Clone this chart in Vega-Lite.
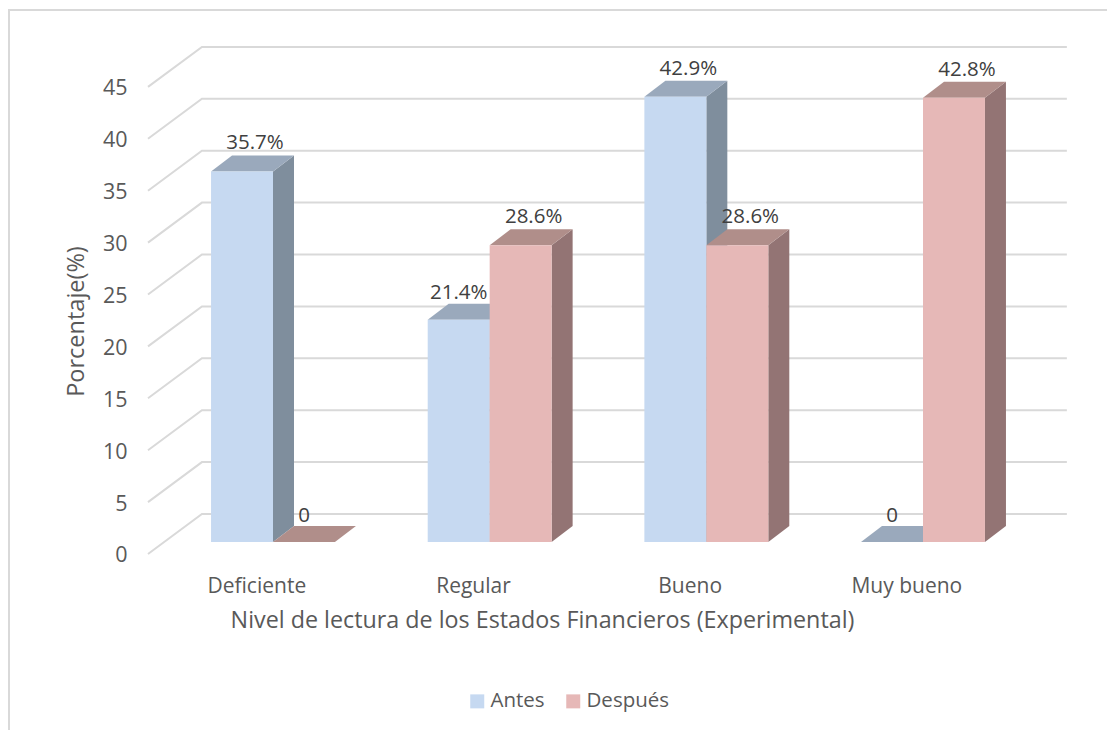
{
"$schema":"https://vega.github.io/schema/vega-lite/v6.json",
"width":1109,"height":725,
"autosize":{"type":"none"},
"padding":{"left":9,"top":10,"right":0,"bottom":0},
"background":"#ffffff",
"config":{"view":{"stroke":"#d9d9d9","strokeWidth":2},"font":"Open Sans"},
"datasets":{
"barras":[
{"nivel":"Deficiente","serie":"Antes","valor":35.7,"etiqueta":"35.7%"},
{"nivel":"Deficiente","serie":"Después","valor":0,"etiqueta":"0"},
{"nivel":"Regular","serie":"Antes","valor":21.4,"etiqueta":"21.4%"},
{"nivel":"Regular","serie":"Después","valor":28.6,"etiqueta":"28.6%"},
{"nivel":"Bueno","serie":"Antes","valor":42.9,"etiqueta":"42.9%"},
{"nivel":"Bueno","serie":"Después","valor":28.6,"etiqueta":"28.6%"},
{"nivel":"Muy bueno","serie":"Antes","valor":0,"etiqueta":"0"},
{"nivel":"Muy bueno","serie":"Después","valor":42.8,"etiqueta":"42.8%"}
],
"marcas":[{"marca":0},{"marca":5},{"marca":10},{"marca":15},{"marca":20},{"marca":25},{"marca":30},{"marca":35},{"marca":40},{"marca":45}]
},
"encoding":{
"x":{"field":"x0","type":"quantitative","scale":{"domain":[-0.6415,4.477],"nice":false,"zero":false},
"axis":{"values":[0.5,1.5,2.5,3.5],"labelExpr":"['Deficiente','Regular','Bueno','Muy bueno'][floor(datum.value)]","grid":false,"domain":false,"ticks":false,"offset":-160,"labelPadding":0,"labelFontSize":21,"labelColor":"#595959","labelFlush":false,"labelOverlap":false,"title":"Nivel de lectura de los Estados Financieros (Experimental)","titleFontSize":23.3,"titleFontWeight":"normal","titleColor":"#595959","titleX":533,"titleY":34,"titleAnchor":"middle","titleAlign":"center"}},
"y":{"field":"y0","type":"quantitative","scale":{"domain":[-17.44,52.41],"nice":false,"zero":false},
"axis":{"values":[0,5,10,15,20,25,30,35,40,45],"grid":false,"domain":false,"ticks":false,"offset":-118,"labelPadding":0,"labelFontSize":21.5,"labelColor":"#595959","labelOverlap":false,"labelFlush":false,"labelOffset":2,"title":"Porcentaje(%)","titleFontSize":23.5,"titleFontWeight":"normal","titleColor":"#595959","titleX":-39,"titleY":311,"titleAnchor":"middle"}}
},
"layer":[
{"data":{"name":"marcas"},
"transform":[{"calculate":"[0,1,2]","as":"p"},{"flatten":["p"]},
{"calculate":"[0,0.249,4.241][datum.p]","as":"x0"},
{"calculate":"datum.marca+[0,3.854,3.854][datum.p]","as":"y0"}],
"mark":{"type":"line","stroke":"#d9d9d9","strokeWidth":2,"strokeJoin":"miter"},
"encoding":{"detail":{"field":"marca","type":"nominal"}}},

{"data":{"name":"barras"},
"transform":[{"filter":"datum.serie==='Antes'"},
{"calculate":"indexof(['Deficiente','Regular','Bueno','Muy bueno'],datum.nivel)+0.291","as":"xl"},
{"calculate":"[0,1]","as":"t"},{"flatten":["t"]},
{"calculate":"datum.xl+0.286+datum.t*0.0969","as":"x0"},
{"calculate":"1.156+datum.t*1.541","as":"y0"},
{"calculate":"datum.y0+datum.valor","as":"y1"}],
"mark":{"type":"area","orient":"vertical","color":"#7f8e9d","opacity":1},
"encoding":{"y2":{"field":"y1"},"detail":{"field":"nivel","type":"nominal"}}},

{"data":{"name":"barras"},
"transform":[{"filter":"datum.serie==='Antes'"},
{"calculate":"indexof(['Deficiente','Regular','Bueno','Muy bueno'],datum.nivel)+0.291","as":"xl"},
{"calculate":"datum.valor+1.156","as":"v0"},
{"calculate":"[0,1,2,3]","as":"p"},{"flatten":["p"]},
{"calculate":"datum.xl+[0,0.0969,0.286,0.3829][datum.p]","as":"x0"},
{"calculate":"datum.v0+[0,0,0,1.541][datum.p]","as":"y0"},
{"calculate":"datum.v0+[0,1.541,1.541,1.541][datum.p]","as":"y1"}],
"mark":{"type":"area","orient":"vertical","color":"#9aa9bc","opacity":1},
"encoding":{"y2":{"field":"y1"},"detail":{"field":"nivel","type":"nominal"}}},

{"data":{"name":"barras"},
"transform":[{"filter":"datum.serie==='Antes'"},
{"calculate":"indexof(['Deficiente','Regular','Bueno','Muy bueno'],datum.nivel)+0.291","as":"x0"},
{"calculate":"datum.x0+0.286","as":"x1"},
{"calculate":"1.156","as":"y0"},
{"calculate":"datum.valor+1.156","as":"y1"}],
"mark":{"type":"rect"},
"encoding":{"x2":{"field":"x1"},"y2":{"field":"y1"},
"color":{"field":"serie","type":"nominal","scale":{"domain":["Antes","Después"],"range":["#c6d9f1","#e6b8b7"]},
"legend":{"title":null,"orient":"none","legendX":458,"legendY":681,"direction":"horizontal","symbolType":"square","symbolSize":196,"symbolOpacity":1,"labelFontSize":20.5,"labelColor":"#595959","columnPadding":18,"labelOffset":3}}}},

{"data":{"name":"barras"},
"transform":[{"filter":"datum.serie==='Después'"},
{"calculate":"indexof(['Deficiente','Regular','Bueno','Muy bueno'],datum.nivel)+0.577","as":"xl"},
{"calculate":"[0,1]","as":"t"},{"flatten":["t"]},
{"calculate":"datum.xl+0.286+datum.t*0.0969","as":"x0"},
{"calculate":"1.156+datum.t*1.541","as":"y0"},
{"calculate":"datum.y0+datum.valor","as":"y1"}],
"mark":{"type":"area","orient":"vertical","color":"#937474","opacity":1},
"encoding":{"y2":{"field":"y1"},"detail":{"field":"nivel","type":"nominal"}}},

{"data":{"name":"barras"},
"transform":[{"filter":"datum.serie==='Después'"},
{"calculate":"indexof(['Deficiente','Regular','Bueno','Muy bueno'],datum.nivel)+0.577","as":"xl"},
{"calculate":"datum.valor+1.156","as":"v0"},
{"calculate":"[0,1,2,3]","as":"p"},{"flatten":["p"]},
{"calculate":"datum.xl+[0,0.0969,0.286,0.3829][datum.p]","as":"x0"},
{"calculate":"datum.v0+[0,0,0,1.541][datum.p]","as":"y0"},
{"calculate":"datum.v0+[0,1.541,1.541,1.541][datum.p]","as":"y1"}],
"mark":{"type":"area","orient":"vertical","color":"#b08e8a","opacity":1},
"encoding":{"y2":{"field":"y1"},"detail":{"field":"nivel","type":"nominal"}}},

{"data":{"name":"barras"},
"transform":[{"filter":"datum.serie==='Después'"},
{"calculate":"indexof(['Deficiente','Regular','Bueno','Muy bueno'],datum.nivel)+0.577","as":"x0"},
{"calculate":"datum.x0+0.286","as":"x1"},
{"calculate":"1.156","as":"y0"},
{"calculate":"datum.valor+1.156","as":"y1"}],
"mark":{"type":"rect"},
"encoding":{"x2":{"field":"x1"},"y2":{"field":"y1"},
"color":{"field":"serie","type":"nominal","scale":{"domain":["Antes","Después"],"range":["#c6d9f1","#e6b8b7"]}}}},

{"data":{"name":"barras"},
"transform":[{"filter":"datum.valor===0||datum.valor===21.4"},
{"calculate":"indexof(['Deficiente','Regular','Bueno','Muy bueno'],datum.nivel)+0.434+(datum.serie==='Antes'?0:0.286)","as":"x0"},
{"calculate":"datum.valor+1.156+2.55","as":"y0"}],
"mark":{"type":"text","fontSize":20.5,"color":"#404040","align":"center","baseline":"middle"},
"encoding":{"text":{"field":"etiqueta","type":"nominal"}}},

{"data":{"name":"barras"},
"transform":[{"filter":"datum.valor!==0&&datum.valor!==21.4"},
{"calculate":"indexof(['Deficiente','Regular','Bueno','Muy bueno'],datum.nivel)+0.434+(datum.serie==='Antes'?0:0.286)","as":"x0"},
{"calculate":"datum.valor+1.156+2.7","as":"y0"}],
"mark":{"type":"text","fontSize":20.5,"color":"#404040","align":"center","baseline":"middle","dx":13},
"encoding":{"text":{"field":"etiqueta","type":"nominal"}}}
]
}
